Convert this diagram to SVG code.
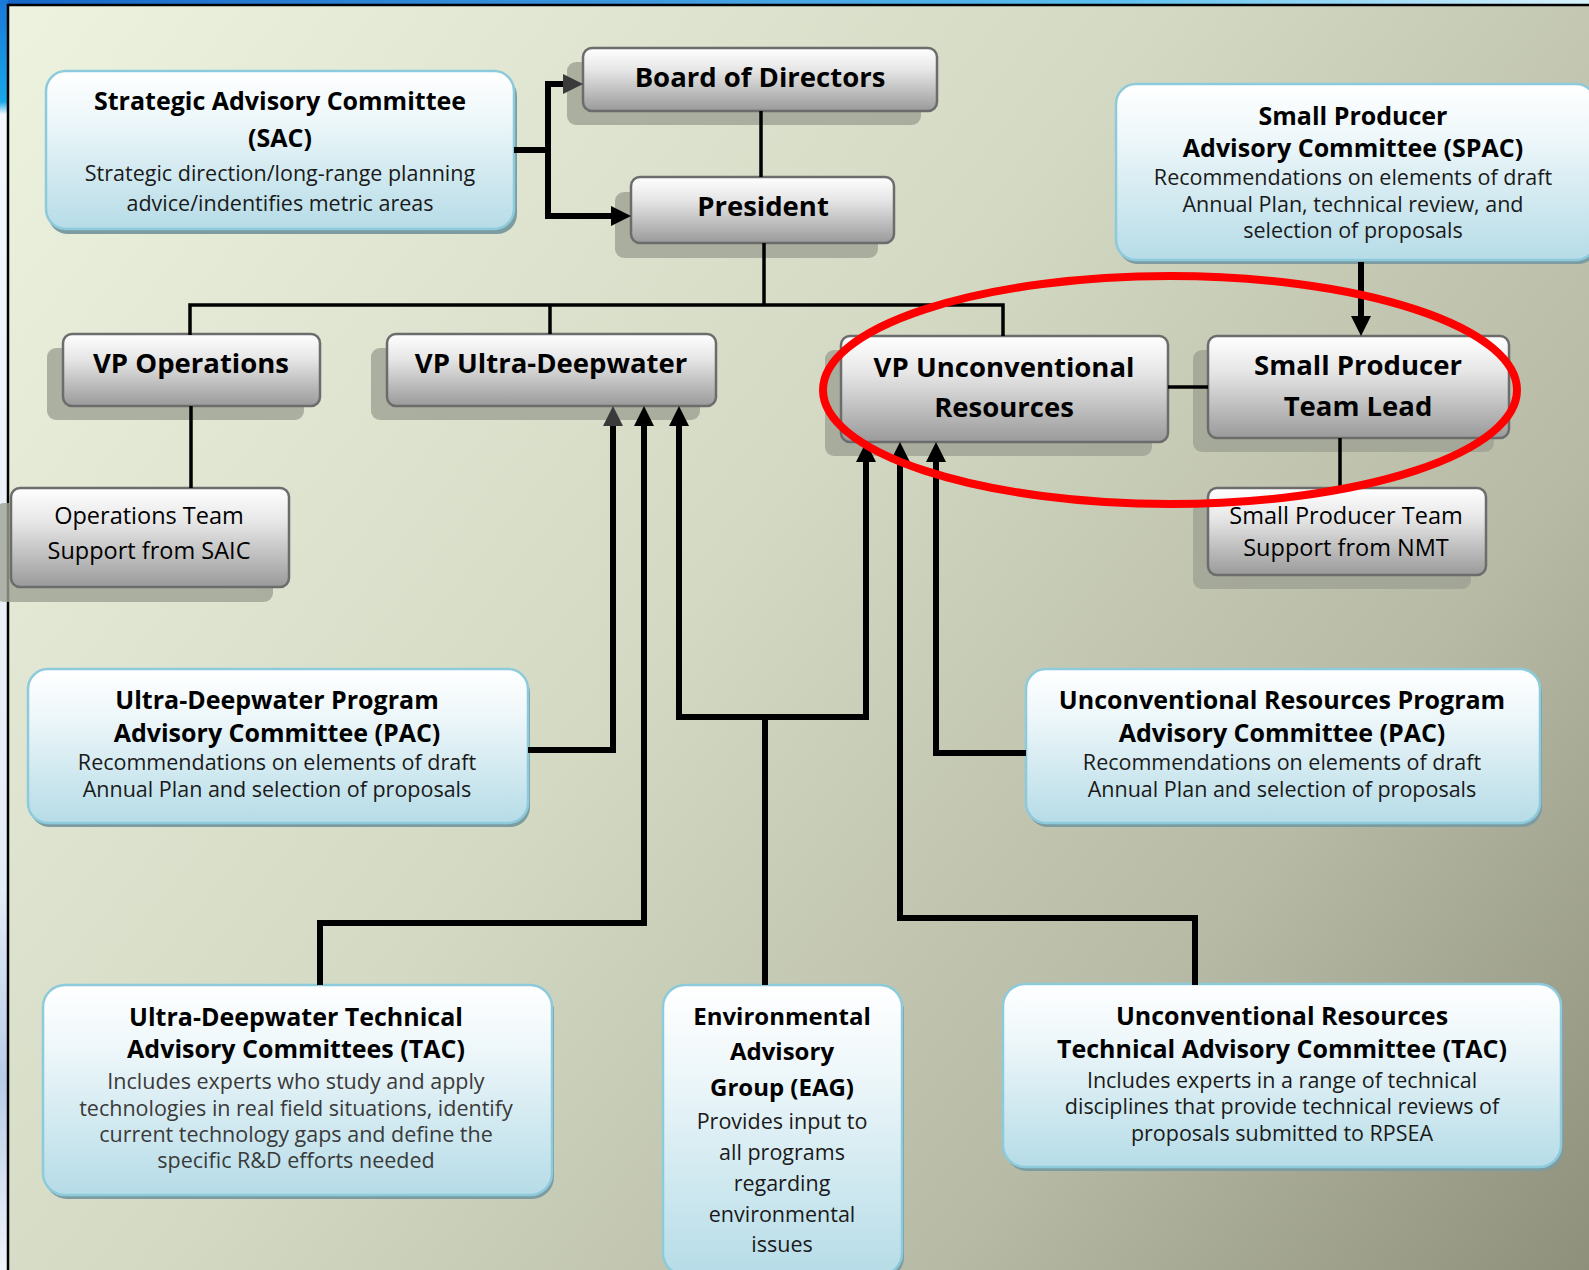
<svg xmlns="http://www.w3.org/2000/svg" width="1589" height="1270" viewBox="0 0 1589 1270">
<defs>
<linearGradient id="bg" x1="0" y1="0" x2="1589" y2="1270" gradientUnits="userSpaceOnUse">
<stop offset="0" stop-color="#eef3e0"/>
<stop offset="0.45" stop-color="#d3d9c3"/>
<stop offset="0.75" stop-color="#b7baa5"/>
<stop offset="1" stop-color="#8e907c"/>
</linearGradient>
<linearGradient id="topstrip" x1="0" y1="0" x2="1" y2="0">
<stop offset="0" stop-color="#1565c8"/>
<stop offset="0.7" stop-color="#5cc0f0"/>
<stop offset="1" stop-color="#d8f2fc"/>
</linearGradient>
<linearGradient id="leftstrip" x1="0" y1="0" x2="0" y2="1">
<stop offset="0" stop-color="#1a78d8"/>
<stop offset="0.08" stop-color="#18a8e8"/>
<stop offset="0.09" stop-color="#f4f8fc"/>
<stop offset="0.7" stop-color="#e4ecf6"/>
<stop offset="0.85" stop-color="#b8cce8"/>
<stop offset="1" stop-color="#f0f4fa"/>
</linearGradient>
<linearGradient id="blueFill" x1="0" y1="0" x2="0" y2="1">
<stop offset="0" stop-color="#ffffff"/>
<stop offset="0.3" stop-color="#eef7fa"/>
<stop offset="1" stop-color="#b6dce7"/>
</linearGradient>
<linearGradient id="grayFill" x1="0" y1="0" x2="0" y2="1">
<stop offset="0" stop-color="#ffffff"/>
<stop offset="0.35" stop-color="#e6e6e6"/>
<stop offset="1" stop-color="#9a9a9a"/>
</linearGradient>
<marker id="arr" viewBox="0 0 20 20" refX="6" refY="10" markerWidth="20" markerHeight="20" markerUnits="userSpaceOnUse" orient="auto">
<path d="M0,0 L20,10 L0,20 z" fill="#000"/>
</marker>
<marker id="arrg" viewBox="0 0 20 20" refX="6" refY="10" markerWidth="20" markerHeight="20" markerUnits="userSpaceOnUse" orient="auto">
<path d="M0,0 L20,10 L0,20 z" fill="#3a3a3a"/>
</marker>
<style>
.blue{fill:url(#blueFill);stroke:#8dcadb;stroke-width:2.5}
.bsh{fill:#7c9ca2}
.gray{fill:url(#grayFill);stroke:#6c6c6c;stroke-width:2.5}
.gsh{fill:#9ea193;opacity:0.8}
text{font-family:"Open Sans","Noto Sans","DejaVu Sans",sans-serif;text-anchor:middle;fill:#000}
.t{font-weight:bold;font-size:25px}
.e{font-weight:bold;font-size:24px}
.d{font-size:21.5px;fill:#1a1a1a}
.dg{font-size:21.5px;fill:#3a3a3a}
.g{font-weight:bold;font-size:27.5px}
.s{font-size:23.5px}
.thin{fill:none;stroke:#000;stroke-width:3.5}
.thick{fill:none;stroke:#000;stroke-width:6;stroke-linejoin:miter}
</style>
</defs>

<rect x="0" y="0" width="1589" height="1270" fill="url(#bg)"/>
<rect x="0" y="0" width="1589" height="5" fill="url(#topstrip)"/>
<rect x="0" y="0" width="8" height="1270" fill="url(#leftstrip)"/>
<path d="M8,1270 V5 H1589" fill="none" stroke="#000" stroke-width="2.5"/>

<g id="sac">
<rect class="bsh" x="48" y="76" width="469" height="158" rx="20"/>
<rect class="blue" x="46" y="71" width="468" height="158" rx="20"/>
<text class="t" x="280" y="110">Strategic Advisory Committee</text>
<text class="t" x="280" y="147">(SAC)</text>
<text class="d" x="280" y="181">Strategic direction/long-range planning</text>
<text class="d" x="280" y="211">advice/indentifies metric areas</text>
</g>

<g id="board">
<rect class="gsh" x="567" y="62" width="354" height="63" rx="9"/>
<rect class="gray" x="583" y="48" width="354" height="63" rx="9"/>
<text class="g" x="760" y="87">Board of Directors</text>
</g>

<g id="president">
<rect class="gsh" x="615" y="192" width="263" height="66" rx="9"/>
<rect class="gray" x="631" y="177" width="263" height="66" rx="9"/>
<text class="g" x="763" y="216">President</text>
</g>

<g id="spac">
<rect class="bsh" x="1118" y="88" width="480" height="176" rx="20"/>
<rect class="blue" x="1116" y="84" width="480" height="176" rx="20"/>
<text class="t" x="1353" y="125">Small Producer</text>
<text class="t" x="1353" y="157">Advisory Committee (SPAC)</text>
<text class="d" x="1353" y="185">Recommendations on elements of draft</text>
<text class="d" x="1353" y="212">Annual Plan, technical review, and</text>
<text class="d" x="1353" y="238">selection of proposals</text>
</g>

<g id="vp-operations">
<rect class="gsh" x="47" y="348" width="257" height="72" rx="9"/>
<rect class="gray" x="63" y="334" width="257" height="72" rx="9"/>
<text class="g" x="191" y="373">VP Operations</text>
</g>

<g id="vp-ultra-deepwater">
<rect class="gsh" x="371" y="348" width="329" height="72" rx="9"/>
<rect class="gray" x="387" y="334" width="329" height="72" rx="9"/>
<text class="g" x="551" y="373">VP Ultra-Deepwater</text>
</g>

<g id="vp-unconventional">
<rect class="gsh" x="825" y="350" width="327" height="106" rx="9"/>
<rect class="gray" x="841" y="336" width="327" height="106" rx="9"/>
<text class="g" x="1004" y="377">VP Unconventional</text>
<text class="g" x="1004" y="417">Resources</text>
</g>

<g id="sp-team-lead">
<rect class="gsh" x="1193" y="350" width="301" height="102" rx="9"/>
<rect class="gray" x="1208" y="336" width="301" height="102" rx="9"/>
<text class="g" x="1358" y="375">Small Producer</text>
<text class="g" x="1358" y="416">Team Lead</text>
</g>

<g id="ops-team">
<rect class="gsh" x="-5" y="503" width="278" height="99" rx="9"/>
<rect class="gray" x="11" y="488" width="278" height="99" rx="9"/>
<text class="s" x="149" y="524">Operations Team</text>
<text class="s" x="149" y="559">Support from SAIC</text>
</g>

<g id="sp-team-support">
<rect class="gsh" x="1193" y="502" width="278" height="87" rx="9"/>
<rect class="gray" x="1208" y="488" width="278" height="87" rx="9"/>
<text class="s" x="1346" y="524">Small Producer Team</text>
<text class="s" x="1346" y="556">Support from NMT</text>
</g>

<g id="udw-pac">
<rect class="bsh" x="30" y="673" width="500" height="154" rx="20"/>
<rect class="blue" x="28" y="669" width="500" height="154" rx="20"/>
<text class="t" x="277" y="709">Ultra-Deepwater Program</text>
<text class="t" x="277" y="742">Advisory Committee (PAC)</text>
<text class="d" x="277" y="770">Recommendations on elements of draft</text>
<text class="d" x="277" y="797">Annual Plan and selection of proposals</text>
</g>

<g id="ur-pac">
<rect class="bsh" x="1028" y="673" width="514" height="154" rx="20"/>
<rect class="blue" x="1026" y="669" width="514" height="154" rx="20"/>
<text class="t" x="1282" y="709">Unconventional Resources Program</text>
<text class="t" x="1282" y="742">Advisory Committee (PAC)</text>
<text class="d" x="1282" y="770">Recommendations on elements of draft</text>
<text class="d" x="1282" y="797">Annual Plan and selection of proposals</text>
</g>

<g id="udw-tac">
<rect class="bsh" x="45" y="989" width="509" height="210" rx="22"/>
<rect class="blue" x="43" y="985" width="509" height="210" rx="22"/>
<text class="t" x="296" y="1026">Ultra-Deepwater Technical</text>
<text class="t" x="296" y="1058">Advisory Committees (TAC)</text>
<text class="dg" x="296" y="1089">Includes experts who study and apply</text>
<text class="dg" x="296" y="1116">technologies in real field situations, identify</text>
<text class="dg" x="296" y="1142">current technology gaps and define the</text>
<text class="dg" x="296" y="1168">specific R&amp;D efforts needed</text>
</g>

<g id="eag">
<rect class="bsh" x="665" y="989" width="239" height="290" rx="22"/>
<rect class="blue" x="663" y="985" width="239" height="290" rx="22"/>
<text class="e" x="782" y="1025">Environmental</text>
<text class="e" x="782" y="1060">Advisory</text>
<text class="e" x="782" y="1096">Group (EAG)</text>
<text class="d" x="782" y="1129">Provides input to</text>
<text class="d" x="782" y="1160">all programs</text>
<text class="d" x="782" y="1191">regarding</text>
<text class="d" x="782" y="1222">environmental</text>
<text class="d" x="782" y="1252">issues</text>
</g>

<g id="ur-tac">
<rect class="bsh" x="1005" y="988" width="558" height="183" rx="22"/>
<rect class="blue" x="1003" y="984" width="558" height="183" rx="22"/>
<text class="t" x="1282" y="1025">Unconventional Resources</text>
<text class="t" x="1282" y="1058">Technical Advisory Committee (TAC)</text>
<text class="d" x="1282" y="1088">Includes experts in a range of technical</text>
<text class="d" x="1282" y="1114">disciplines that provide technical reviews of</text>
<text class="d" x="1282" y="1141">proposals submitted to RPSEA</text>
</g>

<g id="connectors">
<path class="thick" d="M514,150 H548"/>
<path class="thick" d="M548,153 V84 H569" marker-end="url(#arrg)"/>
<path class="thick" d="M548,147 V216 H617" marker-end="url(#arr)"/>
<path class="thin" d="M761,111 V177"/>
<path class="thin" d="M764,243 V305"/>
<path class="thin" d="M190,335 V305 H1003 V336"/>
<path class="thin" d="M550,305 V334"/>
<path class="thin" d="M191,406 V488"/>
<path class="thin" d="M1168,387 H1208"/>
<path class="thin" d="M1340,438 V488"/>
<path class="thick" d="M1361,262 V322" marker-end="url(#arr)"/>
<path class="thick" d="M528,750 H613 V420" marker-end="url(#arrg)"/>
<path class="thick" d="M320,985 V923 H644 V420" marker-end="url(#arr)"/>
<path class="thick" d="M765,985 V717"/>
<path class="thick" d="M765,717 H679 V420" marker-end="url(#arr)"/>
<path class="thick" d="M765,717 H866 V456" marker-end="url(#arr)"/>
<path class="thick" d="M1195,985 V918 H900 V456" marker-end="url(#arr)"/>
<path class="thick" d="M1026,753 H936 V456" marker-end="url(#arr)"/>
</g>

<ellipse id="highlight" cx="1170" cy="390" rx="347" ry="114" fill="none" stroke="#ff0000" stroke-width="8"/>
</svg>
